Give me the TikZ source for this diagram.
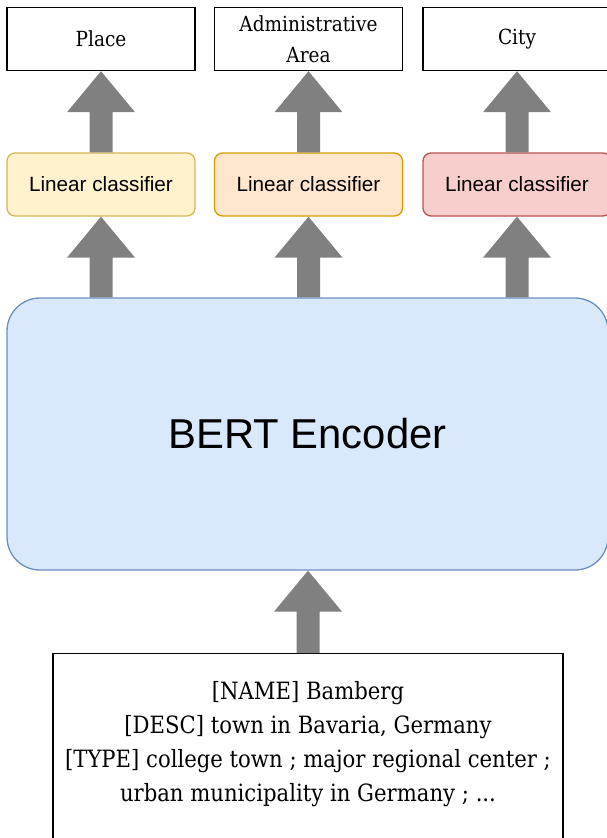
\documentclass[tikz,border=0pt]{standalone}
\usepackage{fontspec}
\setmainfont[FakeStretch=0.89]{DejaVu Serif}
\setsansfont{Liberation Sans}
\usetikzlibrary{calc}
\definecolor{lcAfill}{HTML}{FFF2CC}\definecolor{lcAdraw}{HTML}{D6B656}
\definecolor{lcBfill}{HTML}{FFE6CC}\definecolor{lcBdraw}{HTML}{D79B00}
\definecolor{lcCfill}{HTML}{F8CECC}\definecolor{lcCdraw}{HTML}{B85450}
\definecolor{bertfill}{HTML}{DAE8FC}\definecolor{bertdraw}{HTML}{6C8EBF}
\definecolor{arrgray}{HTML}{808080}
\tikzset{
  outbox/.style={draw=black, line width=1.4pt, fill=white, minimum width=188pt, minimum height=63pt, inner sep=0pt, align=center, font=\fontsize{20.8}{31}\selectfont},
  lcbox/.style={rounded corners=8pt, line width=1.3pt, minimum width=188pt, minimum height=63pt, inner sep=0pt, font=\sffamily\fontsize{20.7}{24}\selectfont},
  bertbox/.style={draw=bertdraw, fill=bertfill, rounded corners=33pt, line width=1.3pt, minimum width=601pt, minimum height=272pt, inner sep=0pt, font=\sffamily\fontsize{41.8}{48}\selectfont},
  inbox/.style={draw=black, line width=1.4pt, fill=white, minimum width=510pt, minimum height=200pt, inner sep=0pt},
  intext/.style={align=center, inner sep=0pt, font=\fontsize{23.8}{34}\selectfont},
  arrfill/.style={fill=arrgray, draw=none}
}
\newcommand\blockarr[2]{%
  \path[arrfill] let \p1=(#1), \p2=(#2) in
    (\x1-11.5pt,\y1) -- (\x1-11.5pt,\y2-41pt) -- (\x1-34pt,\y2-41pt) -- (\x1,\y2)
    -- (\x1+34pt,\y2-41pt) -- (\x1+11.5pt,\y2-41pt) -- (\x1+11.5pt,\y1) -- cycle;}
\begin{document}
\begin{tikzpicture}[x=1pt,y=-1pt]
\useasboundingbox (0,0) rectangle (607,838);
% output boxes
\node[outbox] (place) at (101,39) {Place};
\node[outbox] (admin) at (308.5,39) {Administrative\\Area};
\node[outbox] (city) at (517,39) {City};
% linear classifiers
\node[lcbox, draw=lcAdraw, fill=lcAfill] (lcA) at (101,184.5) {Linear classifier};
\node[lcbox, draw=lcBdraw, fill=lcBfill] (lcB) at (308.5,184.5) {Linear classifier};
\node[lcbox, draw=lcCdraw, fill=lcCfill] (lcC) at (517,184.5) {Linear classifier};
% BERT
\node[bertbox] (bert) at (307.5,434) {BERT Encoder};
% input
\node[inbox, anchor=north] (input) at (308,653) {};
\node[intext] (inputtext) at (308,744) {{[NAME]} Bamberg\\{}{[DESC]} town in Bavaria, Germany\\{}{[TYPE]} college town ; major regional center ;\\urban municipality in Germany ; ...};
% arrows
\blockarr{lcA.north}{place.south}
\blockarr{lcB.north}{admin.south}
\blockarr{lcC.north}{city.south}
\blockarr{lcA.north |- bert.north}{lcA.south}
\blockarr{lcB.north |- bert.north}{lcB.south}
\blockarr{lcC.north |- bert.north}{lcC.south}
\blockarr{input.north}{input.north |- bert.south}
\end{tikzpicture}
\end{document}
